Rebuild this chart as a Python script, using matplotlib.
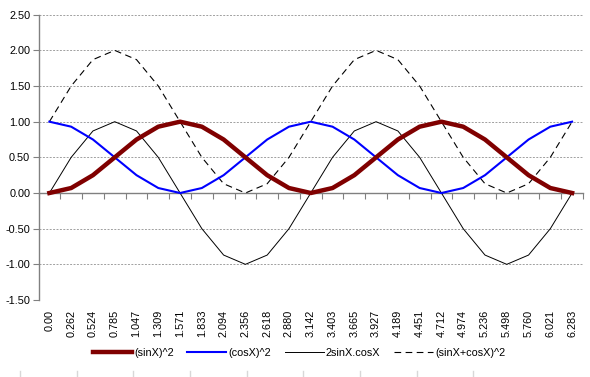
import matplotlib.pyplot as plt
from matplotlib.lines import Line2D
import numpy as np

plt.rcParams['font.family'] = ['Liberation Sans', 'DejaVu Sans']

# Valeurs
x_labels = ['0.00', '0.262', '0.524', '0.785', '1.047', '1.309', '1.571', '1.833',
            '2.094', '2.356', '2.618', '2.880', '3.142', '3.403', '3.665', '3.927',
            '4.189', '4.451', '4.712', '4.974', '5.236', '5.498', '5.760', '6.021', '6.283']
sin2 = [0.00, 0.07, 0.25, 0.50, 0.75, 0.93, 1.00, 0.93, 0.75, 0.50, 0.25, 0.07, 0.00,
        0.07, 0.25, 0.50, 0.75, 0.93, 1.00, 0.93, 0.75, 0.50, 0.25, 0.07, 0.00]
cos2 = [1.00, 0.93, 0.75, 0.50, 0.25, 0.07, 0.00, 0.07, 0.25, 0.50, 0.75, 0.93, 1.00,
        0.93, 0.75, 0.50, 0.25, 0.07, 0.00, 0.07, 0.25, 0.50, 0.75, 0.93, 1.00]
sincos2 = [0.00, 0.50, 0.87, 1.00, 0.87, 0.50, 0.00, -0.50, -0.87, -1.00, -0.87, -0.50, 0.00,
           0.50, 0.87, 1.00, 0.87, 0.50, 0.00, -0.50, -0.87, -1.00, -0.87, -0.50, 0.00]
somme2 = [1.00, 1.50, 1.87, 2.00, 1.87, 1.50, 1.00, 0.50, 0.13, 0.00, 0.13, 0.50, 1.00,
          1.50, 1.87, 2.00, 1.87, 1.50, 1.00, 0.50, 0.13, 0.00, 0.13, 0.50, 1.00]
y_ticks = [-1.5, -1.0, -0.5, 0.0, 0.5, 1.0, 1.5, 2.0, 2.5]

W, H = 590, 377
FS = 7.8
fig = plt.figure(figsize=(W / 100, H / 100), dpi=100)
ax = fig.add_axes([38.5 / W, 1 - 300 / H, (583 - 38.5) / W, (300 - 14.7) / H])

x = np.arange(len(x_labels))
ax.plot(x, sin2, color='#800000', linewidth=3.2, label='(sinX)^2', zorder=4)
ax.plot(x, cos2, color='#0000FF', linewidth=1.5, label='(cosX)^2', zorder=3)
ax.plot(x, sincos2, color='black', linewidth=0.7, label='2sinX.cosX', zorder=2)
ax.plot(x, somme2, color='black', linewidth=0.8, dashes=(6, 4),
        label='(sinX+cosX)^2', zorder=2)

ax.set_xlim(-0.5, len(x_labels) - 0.5)
ax.set_ylim(-1.5, 2.5)

# grille horizontale pointillée
for yv in y_ticks:
    if yv != 0:
        ax.axhline(yv, color='#a0a0a0', linewidth=0.7, linestyle=(0, (2, 1.5)), zorder=0)

ax.set_yticks(y_ticks)
ax.set_yticklabels([f'{v:.2f}' for v in y_ticks], fontsize=FS)
ax.tick_params(axis='y', direction='out', length=4, width=0.8, color='#808080', pad=2)

ax.set_xticks(x)
ax.set_xticklabels(x_labels, rotation=90, fontsize=FS)
ax.tick_params(axis='x', length=0, pad=7)

for s in ['top', 'right', 'bottom']:
    ax.spines[s].set_visible(False)
ax.spines['left'].set_color('#808080')
ax.spines['left'].set_linewidth(1.0)

# axe des X à y = 0 avec graduations entre les catégories
sec = ax.secondary_xaxis(1.5 / 4.0)
sec.set_xticks(np.arange(len(x_labels) + 1) - 0.5)
sec.set_xticklabels([])
sec.tick_params(axis='x', direction='out', length=4, width=0.8, color='#808080')
sec.spines['bottom'].set_color('#808080')
sec.spines['bottom'].set_linewidth(1.0)

fig.legend(loc='center', bbox_to_anchor=(299 / W, 1 - 353 / H), ncol=4, frameon=False,
           fontsize=FS, handlelength=3.6, handletextpad=0.2, columnspacing=1.25)

# traits gris en bas (bordures de colonnes)
for xp in np.arange(20, W, 56.67)[:9]:
    fig.add_artist(Line2D([xp / W, xp / W], [0, 6 / H], color='#d8d8d8', linewidth=1))

fig.savefig('out.png', dpi=100)
